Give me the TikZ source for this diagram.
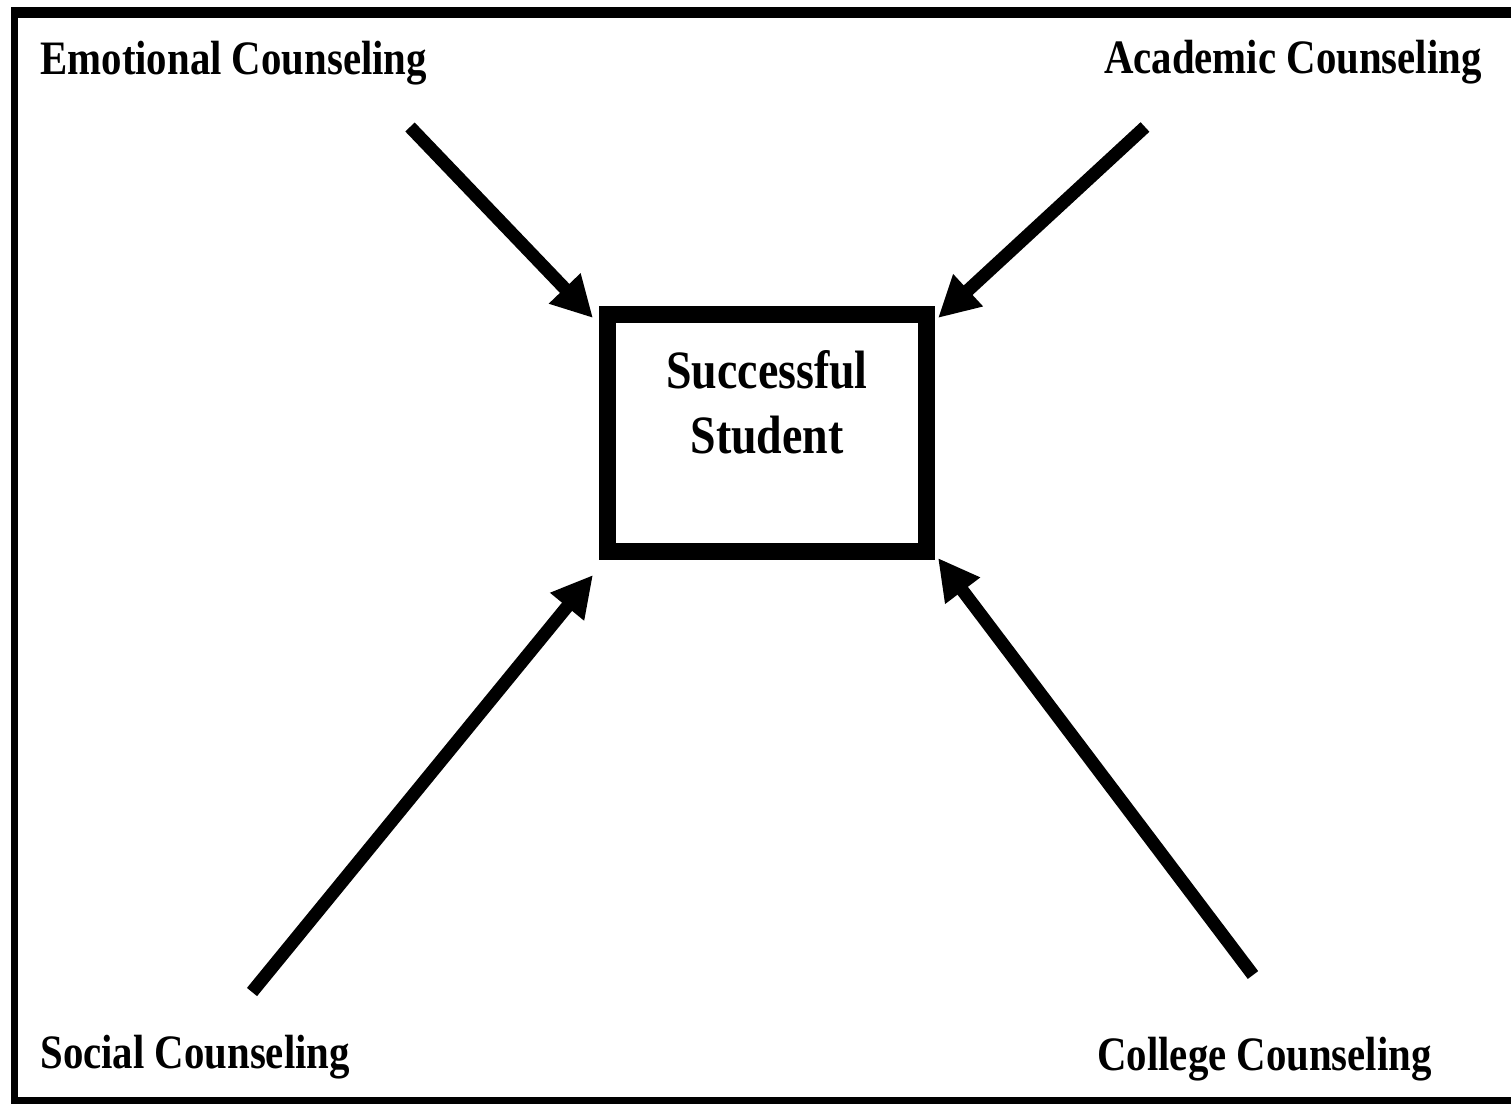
\documentclass[tikz,border=0pt]{standalone}
\usepackage{fontspec}
\usetikzlibrary{arrows.meta}
\newfontfamily\tnr{Liberation Serif}[FakeStretch=0.85]
\begin{document}
\begin{tikzpicture}[x=0.5pt,y=-0.5pt,
  lbl/.style={inner sep=0pt,font=\tnr\bfseries\fontsize{24}{28}\selectfont},
  ctr/.style={inner sep=0pt,anchor=base,font=\tnr\bfseries\fontsize{27}{32}\selectfont},
  centerbox/.style={draw,line width=8.5pt,minimum width=159.5pt,minimum height=118.5pt,inner sep=0pt},
  flow/.style={line width=6.5pt,-{Triangle[length=20.5pt,width=20.5pt]}},
  frame/.style={line width=5pt}]
\useasboundingbox (0,0) rectangle (1511,1104);
\clip (0,0) rectangle (1511,1104);
\fill[white] (0,0) rectangle (1511,1104);
% outer frame (right side lies beyond the picture)
\draw[line width=3.5pt] (14.5,8) -- (14.5,1104);
\draw[line width=5.5pt] (11,12.5) -- (1520,12.5);
\draw[line width=3.5pt] (11,1100.5) -- (1520,1100.5);
% centre box
\node[centerbox] (box) at (767,432.5) {};
\node[ctr] (succ) at (767,388) {Successful};
\node[ctr] (stud) at (767,453) {Student};
% labels
\node[lbl,anchor=base west] (emo) at (40,74) {Emotional Counseling};
\node[lbl,anchor=base east] (aca) at (1482,73) {Academic Counseling};
\node[lbl,anchor=base west] (soc) at (40,1068) {Social Counseling};
\node[lbl,anchor=base west] (col) at (1097,1070) {College Counseling};
% arrow ends
\coordinate (emoT) at (410,127);
\coordinate (acaT) at (1145,127);
\coordinate (socT) at (252,992);
\coordinate (colT) at (1253,975);
\coordinate (emoH) at (593,318);
\coordinate (acaH) at (938,318);
\coordinate (socH) at (593,575);
\coordinate (colH) at (938,558);
\draw[flow] (emoT) -- (emoH);
\draw[flow] (acaT) -- (acaH);
\draw[flow] (socT) -- (socH);
\draw[flow] (colT) -- (colH);
\end{tikzpicture}
\end{document}
